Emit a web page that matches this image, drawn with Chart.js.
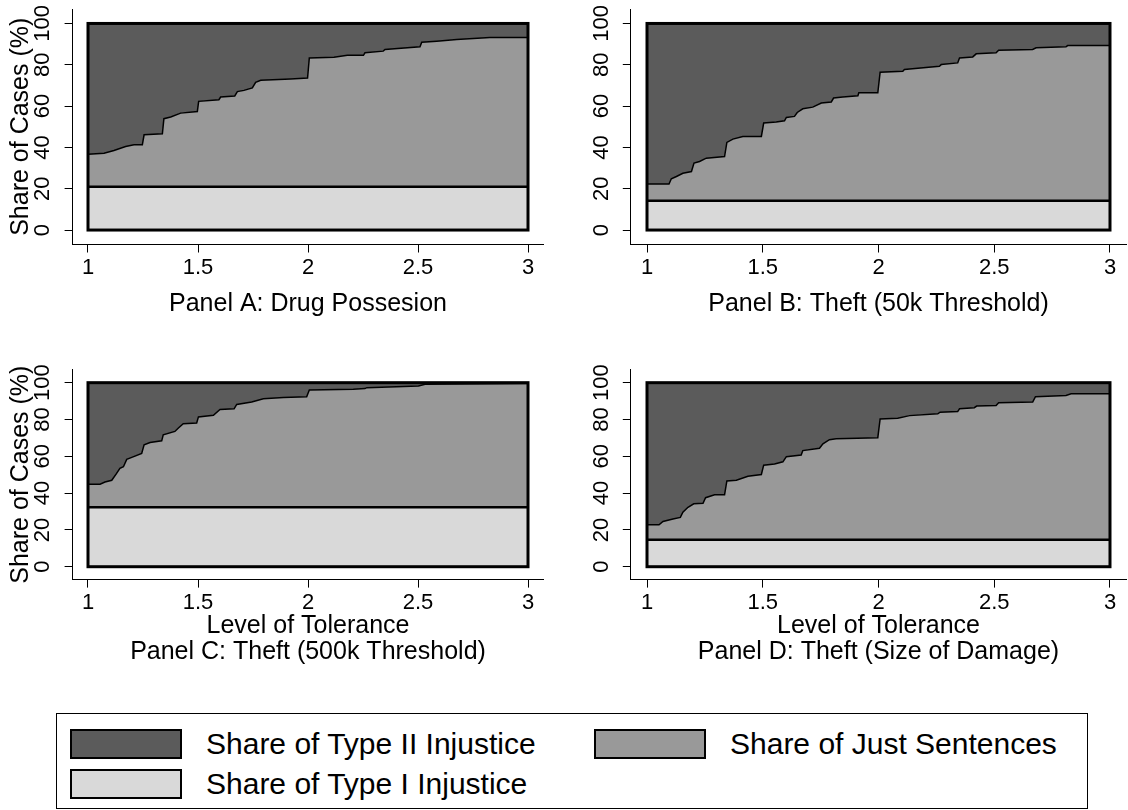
<!DOCTYPE html>
<html>
<head>
<meta charset="utf-8">
<script src="https://cdn.jsdelivr.net/npm/chart.js@4.4.0/dist/chart.umd.min.js"></script>
<style>
  body { margin: 0; background: #fff; width: 1128px; height: 810px; position: relative; overflow: hidden;
         font-family: "Liberation Sans", Arial, sans-serif; }
  .panel { position: absolute; width: 564px; height: 330px; }
  #legend { position: absolute; left: 56px; top: 713px; width: 1030px; height: 94px; border: 1px solid #000; }
  .item { position: absolute; height: 30px; display: flex; align-items: center; }
  .sw { display: inline-block; width: 108px; height: 26px; border: 2px solid #000; margin-right: 24px; }
  .lab { font-size: 30px; color: #000; white-space: nowrap; }
</style>
</head>
<body>
<div class="panel" style="left:0;top:0"><canvas id="panelA" width="564" height="330"></canvas></div>
<div class="panel" style="left:564px;top:0"><canvas id="panelB" width="564" height="330"></canvas></div>
<div class="panel" style="left:0;top:340px"><canvas id="panelC" width="564" height="330"></canvas></div>
<div class="panel" style="left:564px;top:340px"><canvas id="panelD" width="564" height="330"></canvas></div>
<div id="legend"></div>

<script>
const FONT = '"Liberation Sans", Arial, sans-serif';
const DARK = '#5b5b5b';
const MID = '#999999';
const LIGHT = '#d9d9d9';

const xTicks = [1, 1.5, 2, 2.5, 3];
const yTicks = [0, 20, 40, 60, 80, 100];

const seriesLabels = ['Share of Type II Injustice', 'Share of Just Sentences', 'Share of Type I Injustice'];
const seriesColors = [DARK, MID, LIGHT];

// share of type I injustice (flat) per panel
const typeIShare = [21.0, 14.2, 32.3, 14.6];

// upper edge of "just sentences" = 100 - type II share
const panelA_x = [1.000, 1.073, 1.118, 1.171, 1.209, 1.247, 1.255, 1.338, 1.345, 1.376, 1.421, 1.497, 1.503, 1.595, 1.603, 1.667, 1.679, 1.709, 1.747, 1.762, 1.785, 1.921, 1.998, 2.006, 2.118, 2.179, 2.252, 2.259, 2.342, 2.350, 2.509, 2.517, 2.585, 2.676, 2.827, 3.000];
const panelA_y = [36.7, 37.2, 38.5, 40.4, 41.3, 41.3, 46.1, 46.6, 53.9, 54.7, 56.6, 57.4, 62.3, 63.1, 64.4, 64.9, 67.0, 67.6, 68.8, 71.5, 72.5, 73.1, 73.6, 83.3, 83.7, 84.6, 84.6, 85.8, 86.6, 87.4, 88.7, 90.9, 91.4, 92.2, 93.2, 93.2];

const panelB_x = [1.000, 1.095, 1.105, 1.127, 1.155, 1.192, 1.203, 1.227, 1.256, 1.335, 1.345, 1.371, 1.414, 1.494, 1.504, 1.558, 1.594, 1.602, 1.637, 1.649, 1.673, 1.716, 1.753, 1.796, 1.806, 1.846, 1.911, 1.915, 1.997, 2.007, 2.105, 2.112, 2.263, 2.271, 2.342, 2.350, 2.407, 2.422, 2.508, 2.519, 2.666, 2.681, 2.810, 2.817, 3.000];
const panelB_y = [22.3, 22.3, 24.8, 25.9, 27.5, 28.3, 32.4, 33.2, 34.8, 35.6, 42.4, 44.0, 45.3, 45.3, 51.8, 52.3, 52.9, 54.5, 55.0, 56.9, 58.7, 59.5, 61.5, 62.0, 63.9, 64.4, 65.0, 66.4, 66.4, 76.4, 76.9, 77.7, 79.3, 80.1, 80.9, 83.3, 83.8, 85.3, 85.8, 87.0, 87.4, 88.2, 88.7, 89.3, 89.3];

const panelC_x = [1.000, 1.055, 1.077, 1.108, 1.130, 1.145, 1.161, 1.176, 1.199, 1.244, 1.255, 1.282, 1.335, 1.342, 1.395, 1.411, 1.433, 1.494, 1.502, 1.570, 1.600, 1.664, 1.676, 1.744, 1.797, 1.888, 1.994, 2.006, 2.206, 2.259, 2.267, 2.502, 2.532, 2.850, 3.000];
const panelC_y = [44.8, 44.8, 46.0, 47.0, 50.7, 53.4, 54.3, 58.3, 59.4, 61.6, 66.2, 67.5, 68.4, 71.7, 73.5, 75.4, 77.7, 78.1, 81.4, 82.3, 85.4, 85.8, 88.2, 89.5, 91.3, 91.9, 92.4, 96.0, 96.4, 96.8, 97.3, 98.2, 99.2, 99.4, 99.6];

const panelD_x = [1.000, 1.052, 1.069, 1.112, 1.144, 1.155, 1.177, 1.202, 1.242, 1.253, 1.292, 1.335, 1.345, 1.386, 1.436, 1.494, 1.504, 1.551, 1.587, 1.602, 1.666, 1.673, 1.745, 1.760, 1.788, 1.817, 1.997, 2.007, 2.083, 2.134, 2.256, 2.266, 2.342, 2.350, 2.414, 2.424, 2.508, 2.519, 2.666, 2.678, 2.810, 2.832, 3.000];
const panelD_y = [22.8, 22.8, 24.6, 25.9, 26.8, 29.6, 32.3, 34.2, 34.5, 37.5, 39.1, 39.1, 46.6, 47.0, 49.2, 50.1, 55.2, 55.8, 57.0, 59.8, 60.7, 63.1, 64.4, 66.8, 69.0, 69.5, 70.1, 80.3, 80.7, 82.1, 83.1, 84.0, 84.3, 85.8, 86.4, 87.3, 87.6, 89.1, 89.5, 92.4, 93.1, 94.0, 94.0];

// thick frame round the 1..3 x 0..100 region
const plotBox = {
    id: 'plotBox',
    afterDatasetsDraw(chart) {
        const { ctx, scales: { x, y } } = chart;
        const l = x.getPixelForValue(xTicks[0]);
        const r = x.getPixelForValue(xTicks[xTicks.length - 1]);
        const t = y.getPixelForValue(yTicks[yTicks.length - 1]);
        const b = y.getPixelForValue(yTicks[0]);
        ctx.save();
        ctx.strokeStyle = '#000';
        ctx.lineWidth = 3;
        ctx.strokeRect(l, t, r - l, b - t);
        ctx.restore();
    }
};

function makePanel(canvasId, xs, ys, typeI, opts) {
    const lower = xs.map(x => ({ x: x, y: typeI }));
    const curve = xs.map((x, i) => ({ x: x, y: ys[i] }));
    const upper = xs.map(x => ({ x: x, y: 100 }));

    const axisGrid = { drawOnChartArea: false, drawTicks: true, tickLength: 8, color: '#000', lineWidth: 1 };
    const axisBorder = { display: true, color: '#000', width: 1 };

    new Chart(document.getElementById(canvasId), {
        type: 'line',
        data: {
            datasets: [
                { label: seriesLabels[2], data: lower, fill: 'origin', backgroundColor: LIGHT,
                  borderColor: '#000', borderWidth: 2.5, pointRadius: 0 },
                { label: seriesLabels[1], data: curve, fill: '-1', backgroundColor: MID,
                  borderColor: '#000', borderWidth: 1.5, pointRadius: 0 },
                { label: seriesLabels[0], data: upper, fill: '-1', backgroundColor: DARK,
                  borderColor: 'rgba(0,0,0,0)', borderWidth: 0, pointRadius: 0 }
            ]
        },
        options: {
            responsive: false,
            animation: false,
            layout: { padding: { left: 0, right: opts.padRight, top: opts.padTop, bottom: 0 } },
            plugins: { legend: { display: false }, tooltip: { enabled: false } },
            scales: {
                x: {
                    type: 'linear', min: 0.93, max: 3.07,
                    afterBuildTicks: s => { s.ticks = xTicks.map(v => ({ value: v })); },
                    afterFit: s => { s.height = opts.xHeight; s.paddingLeft = 0; s.paddingRight = 0; },
                    grid: axisGrid, border: axisBorder,
                    ticks: { color: '#000', font: { size: 22, family: FONT }, padding: 2, maxRotation: 0,
                             autoSkip: false, callback: v => String(v) },
                    title: { display: true, text: opts.xTitle, color: '#000',
                             font: { size: 25, family: FONT, lineHeight: 1.05 },
                             padding: { top: 0, bottom: opts.xTitlePad } }
                },
                y: {
                    type: 'linear', min: -7, max: 107,
                    afterBuildTicks: s => { s.ticks = yTicks.map(v => ({ value: v })); },
                    afterFit: s => { s.width = opts.yWidth; s.paddingTop = 0; s.paddingBottom = 0; },
                    grid: axisGrid, border: axisBorder,
                    ticks: { color: '#000', font: { size: 22, family: FONT }, padding: 3,
                             minRotation: 90, maxRotation: 90, crossAlign: 'center', autoSkip: false,
                             callback: v => String(v) },
                    title: { display: !!opts.yTitle, text: opts.yTitle || '', color: '#000',
                             font: { size: 25, family: FONT, lineHeight: 1.05 }, padding: { top: 8, bottom: 0 } }
                }
            }
        },
        plugins: [plotBox]
    });
}

makePanel('panelA', panelA_x, panelA_y, typeIShare[0], {
    padTop: 9, padRight: 20.6, yWidth: 72.6, xHeight: 85.5, xTitlePad: 13,
    xTitle: 'Panel A: Drug Possesion', yTitle: 'Share of Cases (%)'
});
makePanel('panelB', panelB_x, panelB_y, typeIShare[1], {
    padTop: 9, padRight: 1.8, yWidth: 66.8, xHeight: 85.5, xTitlePad: 13,
    xTitle: 'Panel B: Theft (50k Threshold)'
});
makePanel('panelC', panelC_x, panelC_y, typeIShare[2], {
    padTop: 29.8, padRight: 20.6, yWidth: 72.6, xHeight: 90.4, xTitlePad: 5,
    xTitle: ['Level of Tolerance', 'Panel C: Theft (500k Threshold)'], yTitle: 'Share of Cases (%)'
});
makePanel('panelD', panelD_x, panelD_y, typeIShare[3], {
    padTop: 29.8, padRight: 1.8, yWidth: 66.8, xHeight: 90.4, xTitlePad: 5,
    xTitle: ['Level of Tolerance', 'Panel D: Theft (Size of Damage)']
});

// legend: two columns, Type II and Just on the first row, Type I below
const legendPos = [[13, 15], [537, 15], [13, 55]];
const legend = document.getElementById('legend');
seriesLabels.forEach((label, i) => {
    const item = document.createElement('div');
    item.className = 'item';
    item.style.left = legendPos[i][0] + 'px';
    item.style.top = legendPos[i][1] + 'px';
    item.innerHTML = '<span class="sw" style="background:' + seriesColors[i] + '"></span><span class="lab">' + label + '</span>';
    legend.appendChild(item);
});
</script>
</body>
</html>
